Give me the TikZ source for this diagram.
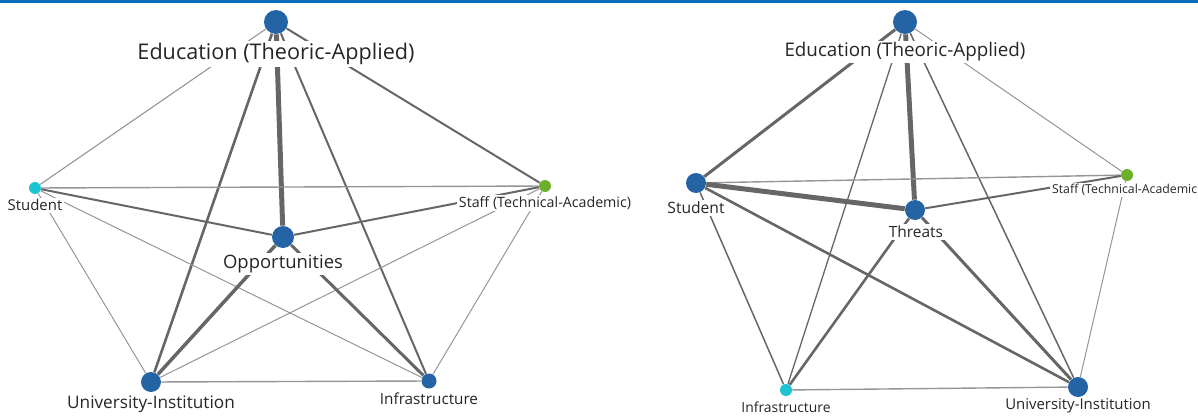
\documentclass[tikz,border=0pt]{standalone}
\usepackage{fontspec}
\setmainfont{Open Sans}
\usetikzlibrary{positioning}
\definecolor{nodeblue}{HTML}{2463A4}
\definecolor{nodecyan}{HTML}{1CC3D3}
\definecolor{nodegreen}{HTML}{6CAF2B}
\definecolor{edgedark}{HTML}{666666}
\definecolor{edgelight}{HTML}{959595}
\definecolor{topbar}{HTML}{0A6EBD}
\tikzset{
	netdot/.style={circle, inner sep=0pt, minimum size={#1*0.02cm}, fill=nodeblue}
}
\tikzset{
	nettext/.style={fill=white, inner sep=1pt, text=black!85, font=\fontsize{#1}{#1}\selectfont}
}

\begin{document}
\begin{tikzpicture}[x=0.02cm, y=-0.02cm]
  \useasboundingbox (0,0) rectangle (1198,416);
  \fill[topbar] (0,0) rectangle (1198,2.5);

  % opportunities network
  \node[netdot=24] (lE) at (276,22) {};
  \node[netdot=12, fill=nodecyan] (lS) at (35,188) {};
  \node[netdot=12, fill=nodegreen] (lT) at (545,186) {};
  \node[netdot=22] (lO) at (283,237) {};
  \node[netdot=20] (lU) at (151,382) {};
  \node[netdot=15] (lI) at (429,381) {};
  \foreach \a/\b/\w/\c in {lE/lS/1.1/edgelight, lE/lU/2.6/edgedark, lE/lO/5/edgedark,
      lE/lI/2/edgedark, lE/lT/2/edgedark, lS/lT/1.4/edgelight, lS/lO/2/edgedark,
      lS/lU/1/edgelight, lS/lI/1/edgelight, lT/lO/2/edgedark, lT/lU/1/edgelight,
      lT/lI/1/edgelight, lO/lU/3.5/edgedark, lO/lI/3/edgedark, lU/lI/1.4/edgelight}
    \draw[\c, line width={\w*0.567pt}] (\a) -- (\b);
  \node[nettext=12.3pt] (lEtxt) at (276,54) {Education (Theoric-Applied)};
  \node[nettext=8.5pt] (lStxt) at (35,205) {Student};
  \node[nettext=8.1pt] (lTtxt) at (545,203) {Staff (Technical-Academic)};
  \node[nettext=10.5pt] (lOtxt) at (283,264) {Opportunities};
  \node[nettext=9.8pt] (lUtxt) at (151,404) {University-Institution};
  \node[nettext=8.7pt] (lItxt) at (429,399) {Infrastructure};

  % threats network
  \node[netdot=24] (rE) at (905,22) {};
  \node[netdot=20] (rS) at (696,183) {};
  \node[netdot=12, fill=nodegreen] (rT) at (1127,175) {};
  \node[netdot=20] (rH) at (915,210) {};
  \node[netdot=12, fill=nodecyan] (rI) at (786,390) {};
  \node[netdot=20] (rU) at (1078,387) {};
  \foreach \a/\b/\w/\c in {rE/rS/3/edgedark, rE/rH/5/edgedark, rE/rI/1.3/edgedark,
      rE/rU/1.5/edgedark, rE/rT/1/edgelight, rS/rT/1.4/edgelight, rS/rH/5/edgedark,
      rS/rI/1.5/edgedark, rS/rU/2.6/edgedark, rH/rT/2/edgedark, rH/rI/2.6/edgedark,
      rH/rU/3/edgedark, rT/rU/1/edgelight, rI/rU/1.4/edgelight}
    \draw[\c, line width={\w*0.567pt}] (\a) -- (\b);
  \node[nettext=10.7pt] (rEtxt) at (905,52) {Education (Theoric-Applied)};
  \node[nettext=8.9pt] (rStxt) at (696,208) {Student};
  \node[nettext=7.0pt, anchor=west] (rTtxt) at (1050,190) {Staff (Technical-Academic};
  \node[nettext=8.8pt] (rHtxt) at (916,232) {Threats};
  \node[nettext=7.9pt] (rItxt) at (786,407) {Infrastructure};
  \node[nettext=8.5pt] (rUtxt) at (1078,406) {University-Institution};
\end{tikzpicture}
\end{document}
